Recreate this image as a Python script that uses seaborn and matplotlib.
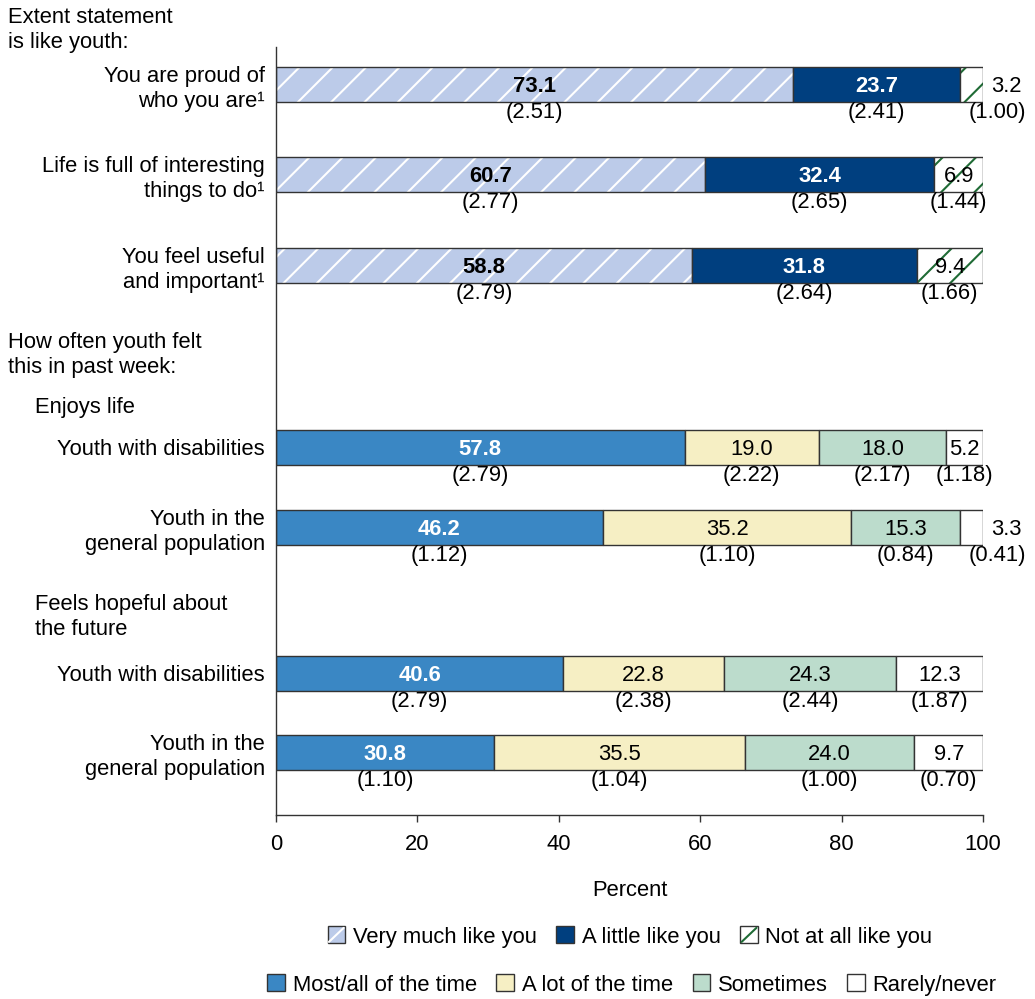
import matplotlib
matplotlib.use("Agg")
import matplotlib.pyplot as plt
from matplotlib.patches import Patch, Rectangle
from matplotlib.lines import Line2D
from matplotlib.legend_handler import HandlerPatch
import seaborn as sns

# Extent statement is like youth
statements = ["You are proud of\nwho you are¹",
              "Life is full of interesting\nthings to do¹",
              "You feel useful\nand important¹"]
very_much = [73.1, 60.7, 58.8]
very_much_se = [2.51, 2.77, 2.79]
a_little = [23.7, 32.4, 31.8]
a_little_se = [2.41, 2.65, 2.64]
not_at_all = [3.2, 6.9, 9.4]
not_at_all_se = [1.00, 1.44, 1.66]

# How often youth felt this in past week
groups = ["Youth with disabilities", "Youth in the\ngeneral population",
          "Youth with disabilities", "Youth in the\ngeneral population"]
most_all = [57.8, 46.2, 40.6, 30.8]
most_all_se = [2.79, 1.12, 2.79, 1.10]
a_lot = [19.0, 35.2, 22.8, 35.5]
a_lot_se = [2.22, 1.10, 2.38, 1.04]
sometimes = [18.0, 15.3, 24.3, 24.0]
sometimes_se = [2.17, 0.84, 2.44, 1.00]
rarely = [5.2, 3.3, 12.3, 9.7]
rarely_se = [1.18, 0.41, 1.87, 0.70]

sns.set_style("white")
plt.rcParams["font.family"] = ["Liberation Sans", "DejaVu Sans"]
plt.rcParams["hatch.linewidth"] = 1.5
for k in ["text.color", "axes.labelcolor", "xtick.color", "ytick.color"]:
    plt.rcParams[k] = "black"

FS = 15.8
W, H = 1035, 999
fig = plt.figure(figsize=(W / 100, H / 100), dpi=100)
ax = fig.add_axes([276 / W, 1 - 815 / H, 707 / W, 768 / H])

# vertical layout in pixel-like units
ypos_a = [84, 174, 265]
ypos_b = [447, 527, 673, 752]
bar_h = 35
se_off = 28

light_blue = "#bccbe9"
navy = "#003f7f"
green = "#1f6b35"
mid_blue = "#3a87c4"
cream = "#f6efc4"
mint = "#bcdccc"
edge = "#333333"

# (values, se, face, hatch colour, hatch, text colour, bold)
series_a = [
    (very_much, very_much_se, light_blue, "white", "/", "black", True),
    (a_little, a_little_se, navy, None, None, "white", True),
    (not_at_all, not_at_all_se, "white", green, "/", "black", False),
]
series_b = [
    (most_all, most_all_se, mid_blue, None, None, "white", True),
    (a_lot, a_lot_se, cream, None, None, "black", False),
    (sometimes, sometimes_se, mint, None, None, "black", False),
    (rarely, rarely_se, "white", None, None, "black", False),
]


def draw_stack(ypos, series):
    left = [0.0] * len(ypos)
    for vals, ses, face, hcol, hatch, tcol, bold in series:
        if hatch:
            ax.barh(ypos, vals, left=left, height=bar_h, color=face,
                    edgecolor=hcol, hatch=hatch, linewidth=0)
        else:
            ax.barh(ypos, vals, left=left, height=bar_h, color=face, linewidth=0)
        ax.barh(ypos, vals, left=left, height=bar_h, fill=False,
                edgecolor=edge, linewidth=1.0)
        for y, l, v, s in zip(ypos, left, vals, ses):
            if v < 4:
                ax.text(l + v + 1.2, y + 2, f"{v:.1f}", ha="left", va="center",
                        fontsize=FS, color="black", clip_on=False)
                sx = 102.0
            else:
                ax.text(l + v / 2, y + 2, f"{v:.1f}", ha="center", va="center",
                        fontsize=FS, color=tcol,
                        fontweight="bold" if bold else "normal")
                sx = l + v / 2
            ax.text(sx, y + se_off, f"({s:.2f})", ha="center", va="center",
                    fontsize=FS, clip_on=False)
        left = [a + b for a, b in zip(left, vals)]


draw_stack(ypos_a, series_a)
draw_stack(ypos_b, series_b)

ax.set_xlim(0, 100)
ax.set_ylim(815, 47)
ax.set_xticks([0, 20, 40, 60, 80, 100])
ax.tick_params(axis="x", labelsize=FS, length=5, width=1, direction="out",
               color=edge, pad=9, bottom=True)
ax.set_yticks(ypos_a + ypos_b)
ax.set_yticklabels(statements + groups, fontsize=FS, linespacing=1.3)
ax.tick_params(axis="y", length=0, pad=8)
ax.set_xlabel("Percent", fontsize=FS, labelpad=18)
sns.despine(ax=ax)
for sp in ["left", "bottom"]:
    ax.spines[sp].set_color(edge)
    ax.spines[sp].set_linewidth(1.0)

# section headers
fig.text(8 / W, 1 - 30 / H, "Extent statement\nis like youth:", fontsize=FS,
         ha="left", va="center", linespacing=1.3)
fig.text(8 / W, 1 - 355 / H, "How often youth felt\nthis in past week:",
         fontsize=FS, ha="left", va="center", linespacing=1.3)
fig.text(35 / W, 1 - 407 / H, "Enjoys life", fontsize=FS, ha="left", va="center")
fig.text(35 / W, 1 - 617 / H, "Feels hopeful about\nthe future", fontsize=FS,
         ha="left", va="center", linespacing=1.3)


class SlashBox(HandlerPatch):
    """Legend box with a single diagonal stroke, like one hatch line."""

    def __init__(self, line_color):
        super().__init__()
        self.line_color = line_color

    def create_artists(self, legend, orig_handle, xdescent, ydescent,
                       width, height, fontsize, trans):
        x0, y0 = -xdescent, -ydescent
        r = Rectangle((x0, y0), width, height,
                      facecolor=orig_handle.get_facecolor(),
                      edgecolor=edge, linewidth=1.0, transform=trans)
        ln = Line2D([x0 + 1, x0 + width - 1], [y0 + 1, y0 + height - 1],
                    color=self.line_color, linewidth=1.5, transform=trans)
        return [r, ln]


hv = Patch(facecolor=light_blue)
hn = Patch(facecolor="white")
h1 = [hv, Patch(facecolor=navy, edgecolor=edge, linewidth=1.0), hn]
l1 = ["Very much like you", "A little like you", "Not at all like you"]
h2 = [Patch(facecolor=c, edgecolor=edge, linewidth=1.0)
      for c in [mid_blue, cream, mint, "white"]]
l2 = ["Most/all of the time", "A lot of the time", "Sometimes", "Rarely/never"]
kw = dict(loc="center", frameon=False, fontsize=FS, handlelength=0.8,
          handleheight=0.8, handletextpad=0.35, columnspacing=0.9,
          borderaxespad=0)
fig.legend(h1, l1, ncol=3, bbox_to_anchor=(630 / W, 1 - 937 / H),
           handler_map={hv: SlashBox("white"), hn: SlashBox(green)}, **kw)
fig.legend(h2, l2, ncol=4, bbox_to_anchor=(632 / W, 1 - 985 / H), **kw)

fig.savefig("out.png", dpi=100)
